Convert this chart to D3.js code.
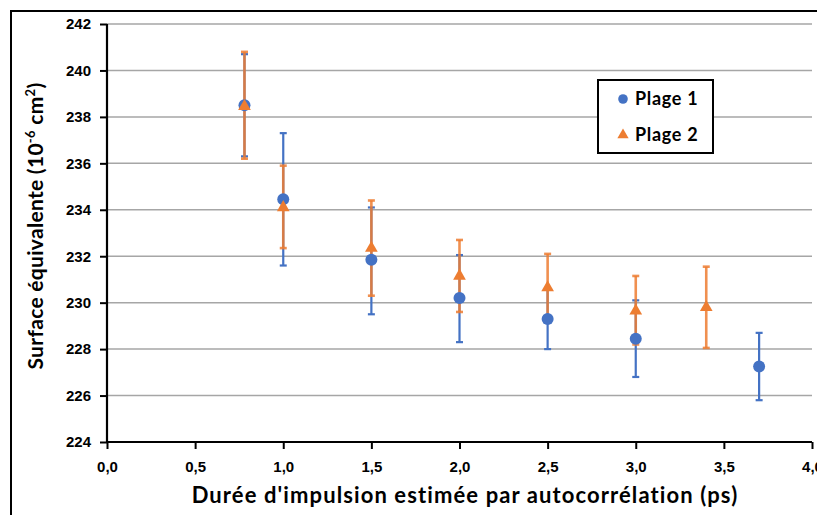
<!DOCTYPE html>
<html><head><meta charset="utf-8">
<script src="https://cdn.jsdelivr.net/npm/d3@7"></script>
<style>
html,body{margin:0;padding:0;background:#fff;}
svg{display:block;font-family:Lato,"Open Sans",sans-serif;}
</style></head>
<body>
<svg id="chart" width="817" height="515"></svg>
<script>
// ---- data ----
const xTicks = [0, 0.5, 1.0, 1.5, 2.0, 2.5, 3.0, 3.5, 4.0];
const yTicks = [224, 226, 228, 230, 232, 234, 236, 238, 240, 242];

const seriesNames = ["Plage 1", "Plage 2"];

const x1 = [0.78, 1.0, 1.5, 2.0, 2.5, 3.0, 3.7];
const y1 = [238.5, 234.45, 231.85, 230.2, 229.3, 228.45, 227.25];
const hi1 = [240.7, 237.3, 234.1, 232.05, 230.6, 230.1, 228.7];
const lo1 = [236.3, 231.6, 229.5, 228.3, 228.0, 226.8, 225.8];

const x2 = [0.78, 1.0, 1.5, 2.0, 2.5, 3.0, 3.4];
const y2 = [238.45, 234.1, 232.35, 231.15, 230.65, 229.65, 229.8];
const hi2 = [240.8, 235.9, 234.4, 232.7, 232.1, 231.15, 231.55];
const lo2 = [236.2, 232.35, 230.3, 229.6, 229.2, 228.2, 228.05];

const blue = "#4472C4", orange = "#ED7D31";

// ---- chart ----
const svg = d3.select("#chart");
const X0 = 107, X1 = 812, Y0 = 442, Y1 = 24;
const x = d3.scaleLinear().domain([0, 4]).range([X0, X1]);
const y = d3.scaleLinear().domain([224, 242]).range([Y0, Y1]);
const fmt = d => d.toFixed(1).replace(".", ",");

// outer border
svg.append("rect").attr("x", 11).attr("y", 11).attr("width", 830).attr("height", 530)
  .attr("fill", "none").attr("stroke", "#000").attr("stroke-width", 2);

// gridlines
svg.append("g").selectAll("line").data(yTicks.filter(d => d > 224)).join("line")
  .attr("x1", X0).attr("x2", X1).attr("y1", d => y(d)).attr("y2", d => y(d))
  .attr("stroke", "#a6a6a6").attr("stroke-width", 1.5);

// axes
const yAxis = svg.append("g").attr("transform", `translate(${X0},0)`)
  .call(d3.axisLeft(y).tickValues(yTicks).tickSize(7).tickPadding(9).tickFormat(d3.format("d")));
const xAxis = svg.append("g").attr("transform", `translate(0,${Y0})`)
  .call(d3.axisBottom(x).tickValues(xTicks).tickSize(7).tickPadding(12).tickFormat(fmt));
[yAxis, xAxis].forEach(g => {
  g.select(".domain").attr("stroke", "#000").attr("stroke-width", 2.2)
    .attr("d", g === yAxis ? `M0,${Y0}V${Y1}` : `M${X0},0H${X1}`);
  g.selectAll(".tick line").attr("stroke", "#000").attr("stroke-width", 2);
  g.selectAll(".tick text").attr("fill", "#000").attr("font-size", 15).attr("font-weight", "bold");
});

// error bars
function errBars(xs, hi, lo, color, width, op) {
  const g = svg.append("g").attr("stroke", color).attr("stroke-width", width).attr("stroke-opacity", op);
  xs.forEach((xv, i) => {
    g.append("line").attr("x1", x(xv)).attr("x2", x(xv)).attr("y1", y(hi[i])).attr("y2", y(lo[i]));
    [hi[i], lo[i]].forEach(v => g.append("line")
      .attr("x1", x(xv) - 3.5).attr("x2", x(xv) + 3.5).attr("y1", y(v)).attr("y2", y(v)));
  });
}
errBars(x1, hi1, lo1, blue, 2.2, 1);
errBars(x2, hi2, lo2, orange, 2.6, 0.85);

// markers
svg.append("g").selectAll("circle").data(x1).join("circle")
  .attr("cx", d => x(d)).attr("cy", (d, i) => y(y1[i])).attr("r", 6).attr("fill", blue);
const tri = d3.symbol().type(d3.symbolTriangle).size(70);
svg.append("g").selectAll("path").data(x2).join("path")
  .attr("d", tri).attr("transform", (d, i) => `translate(${x(d)},${y(y2[i])})`).attr("fill", orange);

// legend
const lg = svg.append("g");
lg.append("rect").attr("x", 598).attr("y", 80).attr("width", 115).attr("height", 73)
  .attr("fill", "#fff").attr("stroke", "#000").attr("stroke-width", 2);
lg.append("circle").attr("cx", 623).attr("cy", 99).attr("r", 4.8).attr("fill", blue);
lg.append("path").attr("d", d3.symbol().type(d3.symbolTriangle).size(55))
  .attr("transform", "translate(623,135)").attr("fill", orange);
seriesNames.forEach((n, i) => lg.append("text").attr("x", 635).attr("y", 104.5 + i * 36.5)
  .attr("font-size", 18).attr("font-weight", "bold").attr("letter-spacing", 0.7)
  .attr("fill", "#000").text(n));

// axis titles
svg.append("text").attr("x", 465).attr("y", 503).attr("text-anchor", "middle")
  .attr("font-size", 22).attr("font-weight", "bold").attr("letter-spacing", 1.1).attr("fill", "#000")
  .text("Durée d'impulsion estimée par autocorrélation (ps)");

const yt = svg.append("text").attr("transform", "translate(43,226) rotate(-90)")
  .attr("text-anchor", "middle").attr("font-size", 21).attr("font-weight", "bold")
  .attr("letter-spacing", 0.3).attr("fill", "#000");
yt.append("tspan").text("Surface équivalente (10");
yt.append("tspan").attr("dy", -8).attr("font-size", 13).text("-6");
yt.append("tspan").attr("dy", 8).text(" cm");
yt.append("tspan").attr("dy", -8).attr("font-size", 13).text("2");
yt.append("tspan").attr("dy", 8).text(")");
</script>
</body></html>
